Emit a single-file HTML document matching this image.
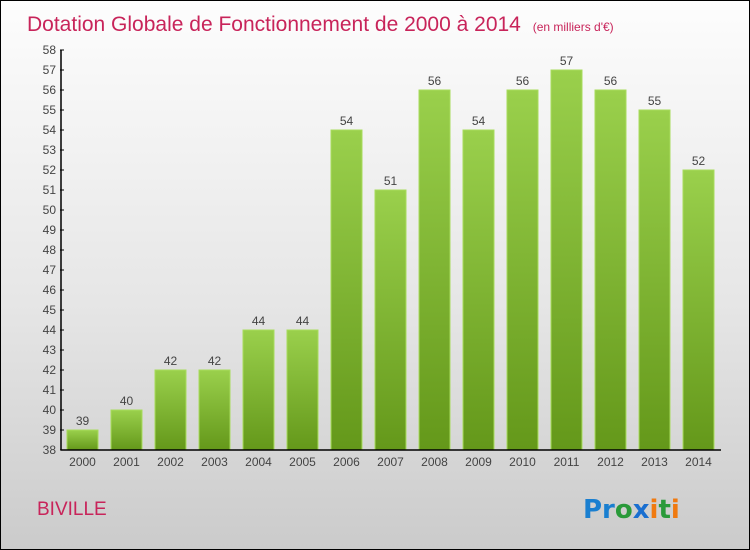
<!DOCTYPE html>
<html><head><meta charset="utf-8"><style>
body{margin:0}
#c{width:748px;height:548px;border:1px solid #000;background:linear-gradient(#fdfdfd,#e6e6e6 55%,#cbcbcb);position:relative;overflow:hidden;font-family:"Liberation Sans",sans-serif}
svg{position:absolute;left:0;top:0}
</style></head><body>
<div id="c">
<svg id="s" width="748" height="548">
<defs><linearGradient id="g" x1="0" y1="0" x2="0" y2="1"><stop offset="0" stop-color="#9ad04c"/><stop offset="1" stop-color="#64981a"/></linearGradient></defs>
<text x="26" y="30" font-size="21" fill="#c8245a">Dotation Globale de Fonctionnement de 2000 à 2014 <tspan font-size="12" dx="6">(en milliers d'€)</tspan></text>
<text x="36" y="514" font-size="19" fill="#c8245a">BIVILLE</text>
<text x="582" y="517" font-size="26" font-weight="bold" font-family="'DejaVu Sans',sans-serif"><tspan fill="#1a7fd0">Pr</tspan><tspan fill="#2a9a3a">o</tspan><tspan fill="#1a6fd0">x</tspan><tspan fill="#f07a10">i</tspan><tspan fill="#2a9a3a">t</tspan><tspan fill="#f07a10">i</tspan></text>
</svg>
</div>
<script>
const years=["2000","2001","2002","2003","2004","2005","2006","2007","2008","2009","2010","2011","2012","2013","2014"];
const values=[39,40,42,42,44,44,54,51,56,54,56,57,56,55,52];
const yTicks=[38,39,40,41,42,43,44,45,46,47,48,49,50,51,52,53,54,55,56,57,58];
const svgEl=document.getElementById('s'),NS='http://www.w3.org/2000/svg';
const yMin=38,yMax=58,plotTop=49,plotBot=449;
const yScale=v=>plotBot-(v-yMin)/(yMax-yMin)*(plotBot-plotTop);
const xScale=i=>66+i*44;
function mk(t,a,txt){const e=document.createElementNS(NS,t);for(const k in a)e.setAttribute(k,a[k]);if(txt!=null)e.textContent=txt;svgEl.appendChild(e);return e;}
values.forEach((v,i)=>{
 const r=mk('rect',{x:xScale(i),y:yScale(v),width:31,height:plotBot-yScale(v),fill:'url(#g)',stroke:'#a8dc5c','stroke-width':1});
 
 
 const l=mk('text',{x:xScale(i)+15.5,y:yScale(v)-5,'font-size':12,fill:'#444','text-anchor':'middle'},v);
 
 
 const xl=mk('text',{x:xScale(i)+15.5,y:plotBot+16,'font-size':12,fill:'#444','text-anchor':'middle'},years[i]);
 
 
});
yTicks.forEach(t=>{
 const l=mk('text',{x:55,y:yScale(t)+4,'font-size':12,fill:'#444','text-anchor':'end'},t);
 
 
 const tk=mk('line',{x1:59,x2:63,y1:yScale(t),y2:yScale(t),stroke:'#000'});
 
 
});
const ya=mk('line',{x1:60,x2:60,y1:plotTop,y2:plotBot,stroke:'#000','stroke-width':1.5});


const xa=mk('line',{x1:60,x2:720,y1:plotBot,y2:plotBot,stroke:'#000','stroke-width':1.5});


</script>
</body></html>
